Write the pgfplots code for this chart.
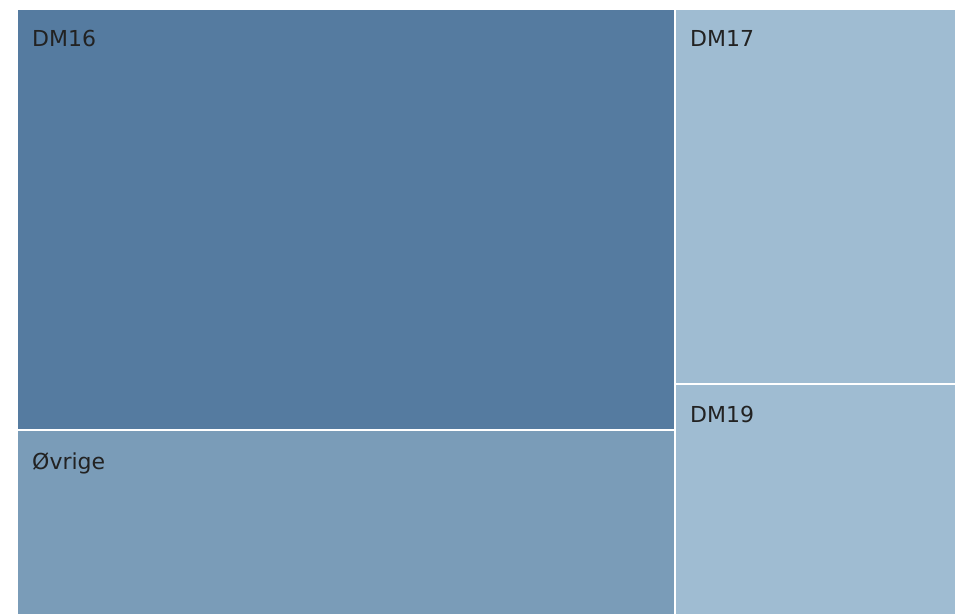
\documentclass[border=0pt]{standalone}
\usepackage{pgfplots}
\pgfplotsset{compat=1.18}
\usepackage{fontspec}
\setmainfont{DejaVu Sans}
\definecolor{cA}{HTML}{557BA0}
\definecolor{cB}{HTML}{7A9CB8}
\definecolor{cC}{HTML}{9FBCD2}
\definecolor{txt}{HTML}{222222}
\begin{document}
\begin{tikzpicture}
\begin{axis}[
  scale only axis, width=955bp, height=614bp,
  xmin=0, xmax=955, ymin=0, ymax=614, y dir=reverse,
  hide axis, clip=false,
]
% treemap tiles (pixel coordinates)
\addplot[fill=cA, draw=none] coordinates {(18,10) (674,10) (674,429) (18,429)} --cycle;
\addplot[fill=cB, draw=none] coordinates {(18,431) (674,431) (674,614) (18,614)} --cycle;
\addplot[fill=cC, draw=none] coordinates {(676,10) (955,10) (955,383) (676,383)} --cycle;
\addplot[fill=cC, draw=none] coordinates {(676,385) (955,385) (955,614) (676,614)} --cycle;
\begin{scope}[every node/.style={anchor=base west, inner sep=0pt, text=txt, font=\fontsize{22bp}{26bp}\selectfont}]
\node at (axis cs:32,47) {DM16};
\node at (axis cs:32,469) {Øvrige};
\node at (axis cs:690,47) {DM17};
\node at (axis cs:690,422) {DM19};
\end{scope}
\coordinate (ca) at (axis cs:0,0);
\coordinate (cb) at (axis cs:955,614);
\end{axis}
\pgfresetboundingbox
\path[use as bounding box] (ca) rectangle (cb);
\end{tikzpicture}
\end{document}
